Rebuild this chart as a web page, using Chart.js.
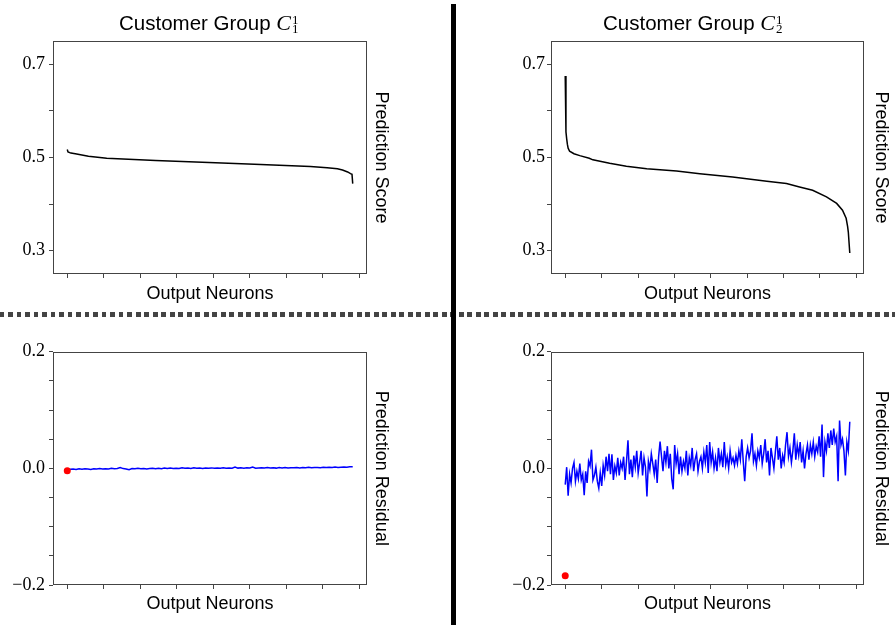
<!DOCTYPE html>
<html><head><meta charset="utf-8">
<script src="https://cdn.jsdelivr.net/npm/chart.js@4.4.1/dist/chart.umd.min.js"></script>
<style>
html,body{margin:0;padding:0;background:#fff;}
#wrap{position:relative;width:895px;height:625px;overflow:hidden;background:#fff;}
canvas{position:absolute;}
.ttl{position:absolute;top:12.6px;font-family:'Liberation Sans',Arial,sans-serif;font-size:20.5px;line-height:20.5px;white-space:nowrap;color:#000;}
.mc{font-family:'Liberation Serif',serif;font-style:italic;font-size:22px;}
.ss{position:relative;display:inline-block;width:12px;height:0;}
.sp,.sb{position:absolute;left:1px;font-family:'Liberation Serif',serif;font-size:13px;line-height:13px;}
.sp{bottom:3.9px;}
.sb{top:-7.6px;}
#vline{position:absolute;left:451px;top:4px;width:5px;height:621px;background:#000;z-index:3;}
#hline{position:absolute;left:0;top:312px;width:895px;height:5px;background:repeating-linear-gradient(to right,#444 0 4.5px,transparent 4.5px 8.5px);z-index:2;}
</style></head>
<body>
<div id="wrap">
  <canvas id="c1" width="450" height="310" style="left:0;top:0"></canvas>
  <canvas id="c2" width="445" height="310" style="left:450px;top:0"></canvas>
  <canvas id="c3" width="450" height="315" style="left:0;top:310px"></canvas>
  <canvas id="c4" width="445" height="315" style="left:450px;top:310px"></canvas>
  <div class="ttl" style="left:119px">Customer Group <span class="mc">C</span><span class="ss"><span class="sp">1</span><span class="sb">1</span></span></div>
  <div class="ttl" style="left:603px">Customer Group <span class="mc">C</span><span class="ss"><span class="sp">1</span><span class="sb">2</span></span></div>
  <div id="hline"></div>
  <div id="vline"></div>
</div>
<script>
// ---------- data ----------
const nNeurons = 392;
const xTicks = [0, 50, 100, 150, 200, 250, 300, 350, 400];
const scoreTicks = [0.3, 0.4, 0.5, 0.6, 0.7];
const scoreLabeled = [0.3, 0.5, 0.7];
const residTicks = [-0.2, -0.15, -0.1, -0.05, 0, 0.05, 0.1, 0.15, 0.2];
const residLabeled = [-0.2, 0, 0.2];

// Prediction score, customer group C_1^1 (sorted, sampled neuron index -> score)
const scoreIdxC1 = [0, 1, 5, 11, 29, 54, 121, 203, 265, 333, 356, 370, 377, 384, 388, 390, 391];
const scoreC1 = [0.517, 0.512, 0.5095, 0.508, 0.5028, 0.4985, 0.4936, 0.4887, 0.485, 0.4809, 0.478, 0.476, 0.473, 0.469, 0.4655, 0.464, 0.444];

// Prediction score, customer group C_2^1
const scoreIdxC2 = [0, 1, 2, 3, 4, 6, 12, 20, 33, 38, 61, 84, 112, 153, 185, 230, 277, 304, 322, 340, 359, 373, 381, 386, 388, 389, 391];
const scoreC2 = [0.675, 0.555, 0.54, 0.528, 0.52, 0.5134, 0.508, 0.504, 0.4985, 0.495, 0.4875, 0.481, 0.476, 0.471, 0.4653, 0.458, 0.449, 0.444, 0.4368, 0.4298, 0.4155, 0.4015, 0.387, 0.3696, 0.352, 0.34, 0.295];

// Prediction residual, C_1^1
const residC1 = [
 -0.002,-0.0015,-0.001,-0.002,-0.0008,-0.0015,-0.0005,-0.0012,-0.002,-0.0006,
 -0.001,-0.0003,-0.0012,-0.0005,-0.0009,0.0,-0.0007,-0.0002,0.0015,-0.0004,
 -0.001,-0.0025,-0.0003,-0.0008,0.0002,-0.0006,-0.0001,-0.0009,-0.0002,0.0003,
 -0.0005,0.0001,-0.0006,0.0004,-0.0002,0.0006,-0.0003,0.0002,-0.0004,0.0008,
 0.0,0.0005,-0.0002,0.0009,0.0001,0.0004,-0.0003,0.0006,0.0002,0.0008,
 0.0,0.0005,0.0003,0.0012,0.0001,0.0007,0.0003,0.0022,0.0004,0.0009,
 0.0002,0.001,0.0006,0.0024,0.0003,0.0008,0.0012,0.0005,0.0015,0.0007,
 0.0011,0.0004,0.0013,0.0008,0.0016,0.0006,0.0012,0.0009,0.0014,0.0007,
 0.0015,0.001,0.0018,0.0009,0.0013,0.0016,0.0011,0.0019,0.0013,0.0017,
 0.0014,0.0021,0.0016,0.0019,0.0023,0.0018,0.0026,0.0028];
const residFirstC1 = -0.004;

// Prediction residual, C_2^1
const residC2 = [
 -0.028,0.002,-0.047,-0.01,-0.025,0.0,0.01,-0.022,-0.005,-0.018,
 0.008,-0.02,-0.01,-0.046,-0.005,-0.025,0.012,0.004,0.032,-0.02,
 -0.012,0.002,-0.022,-0.034,-0.008,-0.03,0.005,-0.012,0.02,-0.005,
 0.025,-0.01,0.024,-0.02,0.004,-0.008,0.018,-0.012,0.01,0.0,
 0.02,-0.02,0.012,0.048,-0.01,0.015,-0.015,0.022,0.002,0.03,
 -0.008,0.01,0.03,-0.012,0.018,0.002,-0.048,0.012,-0.002,0.025,
 0.008,-0.01,0.015,-0.025,0.02,0.046,0.02,-0.005,0.03,0.01,
 0.038,0.0,0.025,-0.018,-0.036,0.04,0.008,0.025,-0.01,0.02,
 -0.005,0.012,0.0,0.03,-0.012,0.018,0.005,0.035,-0.005,0.015,
 0.025,-0.005,0.012,0.02,0.0,0.028,0.01,0.04,-0.008,0.045,
 0.01,0.028,0.0,0.018,-0.005,0.035,0.01,0.025,0.002,0.045,
 0.006,0.02,0.0,0.03,0.01,0.018,0.005,0.022,0.008,0.03,
 0.015,0.05,0.012,-0.022,0.02,0.035,0.018,0.03,0.06,0.012,
 0.025,0.005,0.03,0.018,0.04,0.008,0.025,0.05,0.01,0.03,
 -0.012,0.035,0.018,0.0,0.028,0.055,0.015,0.035,0.0,0.022,
 0.01,0.04,0.062,0.02,0.035,0.01,0.03,0.06,0.015,0.04,
 0.022,0.045,0.01,0.03,0.0,0.025,0.04,0.015,0.04,0.025,
 0.045,0.02,0.038,0.028,0.055,0.02,0.075,-0.015,0.045,0.03,
 0.06,0.035,0.065,0.04,0.068,0.045,0.055,-0.022,0.082,0.04,
 0.05,0.03,-0.012,0.045,0.03,0.08];
const residFirstC2 = -0.184;

// ---------- helpers ----------
function pairs(xs, ys){ return ys.map((y,i)=>({x:xs[i], y:y})); }
function spread(ys){ const step=(nNeurons-1)/(ys.length-1); return ys.map((y,i)=>({x:i*step, y:y})); }

const framePlugin = {
  id:'frame',
  afterDatasetsDraw(chart){
    const a = chart.chartArea, ctx = chart.ctx;
    ctx.save();
    ctx.strokeStyle = '#444';
    ctx.lineWidth = 1;
    ctx.strokeRect(Math.round(a.left)+0.5, Math.round(a.top)+0.5, Math.round(a.right)-Math.round(a.left)-1, Math.round(a.bottom)-Math.round(a.top)-1);
    ctx.restore();
  }
};

function lineDs(data, color){
  return {data:data, borderColor:color, borderWidth:1.5, pointRadius:0, tension:0, fill:false};
}
function dotDs(y){
  return {data:[{x:0,y:y}], showLine:false, pointRadius:3.5, pointBackgroundColor:'#ff0000', pointBorderWidth:0, borderColor:'#ff0000'};
}

function panel(id, cfg){
  const tickColor = '#444';
  return new Chart(document.getElementById(id), {
    type:'line',
    data:{datasets:cfg.datasets},
    options:{
      responsive:false, animation:false, devicePixelRatio:1,
      layout:{padding:{top:cfg.padTop, bottom:cfg.padBottom, left:0, right:cfg.padRight}},
      plugins:{legend:{display:false}, tooltip:{enabled:false}},
      scales:{
        x:{type:'linear', position:'bottom', min:-0.05*(nNeurons-1), max:1.05*(nNeurons-1),
          afterBuildTicks:s=>{ s.ticks = xTicks.map(v=>({value:v})); },
          afterFit:s=>{ s.height = cfg.xH; },
          ticks:{display:false},
          grid:{drawOnChartArea:false, drawTicks:true, tickLength:4, color:tickColor, lineWidth:1},
          border:{display:false},
          title:{display:true, text:'Output Neurons', color:'#000', font:{family:'Liberation Sans', size:18}, padding:0}
        },
        y:{type:'linear', position:'left', min:cfg.yMin, max:cfg.yMax,
          afterBuildTicks:s=>{ s.ticks = cfg.yTicks.map(v=>({value:v})); },
          afterFit:s=>{ s.width = cfg.yW; },
          ticks:{color:'#000', font:{family:'Liberation Serif', size:18}, padding:cfg.yPad,
            callback:v=> cfg.yLab.some(m=>Math.abs(m-v)<1e-9) ? v.toFixed(1).replace('-','\u2212') : ''},
          grid:{drawOnChartArea:false, drawTicks:true, tickLength:4, color:tickColor, lineWidth:1},
          border:{display:false}
        },
        yR:{type:'linear', position:'right', min:cfg.yMin, max:cfg.yMax,
          afterFit:s=>{ s.width = cfg.rW; },
          ticks:{display:false},
          grid:{display:false},
          border:{display:false},
          title:{display:true, text:cfg.yTitle, color:'#000', font:{family:'Liberation Sans', size:18}, padding:0}
        }
      }
    },
    plugins:[framePlugin]
  });
}

panel('c1', {datasets:[lineDs(pairs(scoreIdxC1, scoreC1), '#000')],
  padTop:41, padBottom:4.8, xH:31.2, padRight:58, yW:53, rW:25, yPad:4,
  yMin:0.25, yMax:0.75, yTicks:scoreTicks, yLab:scoreLabeled, yTitle:'Prediction Score'});
panel('c2', {datasets:[lineDs(pairs(scoreIdxC2, scoreC2), '#000')],
  padTop:41, padBottom:4.8, xH:31.2, padRight:3, yW:101, rW:28, yPad:2,
  yMin:0.25, yMax:0.75, yTicks:scoreTicks, yLab:scoreLabeled, yTitle:'Prediction Score'});
panel('c3', {datasets:[dotDs(residFirstC1), lineDs(spread(residC1), '#0000ff')],
  padTop:41.7, padBottom:9.8, xH:30.2, padRight:58, yW:53, rW:25, yPad:4,
  yMin:-0.2, yMax:0.2, yTicks:residTicks, yLab:residLabeled, yTitle:'Prediction Residual'});
panel('c4', {datasets:[dotDs(residFirstC2), lineDs(spread(residC2), '#0000ff')],
  padTop:41.7, padBottom:9.8, xH:30.2, padRight:3, yW:101, rW:28, yPad:2,
  yMin:-0.2, yMax:0.2, yTicks:residTicks, yLab:residLabeled, yTitle:'Prediction Residual'});
</script>
</body></html>
